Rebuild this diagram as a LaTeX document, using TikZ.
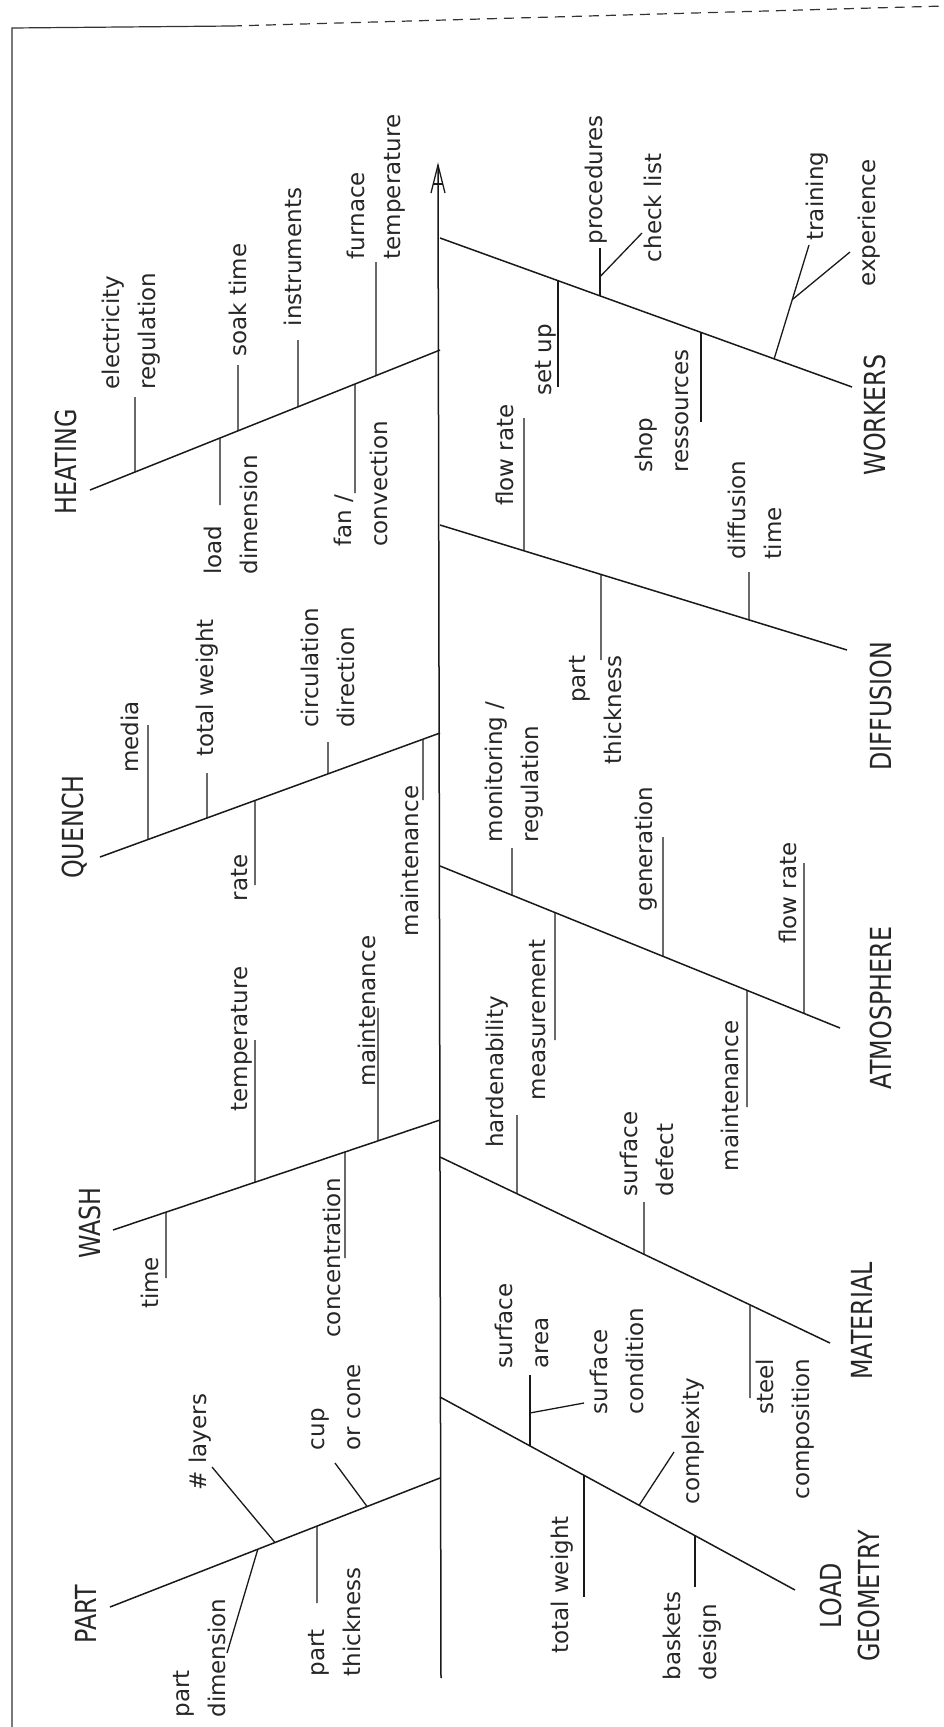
\documentclass[tikz,border=0pt]{standalone}
\usepackage{fontspec}
\setmainfont{DejaVu Sans}
\newfontfamily\catfam[FakeStretch=0.82]{DejaVu Sans}
\newcommand\labfont{\fontsize{23}{36}\selectfont}
\newcommand\catfnt{\catfam\fontsize{29}{38}\selectfont}
\usetikzlibrary{calc}
\tikzset{
  bone/.style={line width=1.5pt, black!90},
  sub/.style={line width=1.3pt, black!90},
  border/.style={line width=1.2pt, black!80},
  lab/.style={rotate=90, inner sep=0pt, font=\labfont, text=black!85},
  cat/.style={rotate=90, inner sep=0pt, font=\catfnt, text=black!85},
}
\newcommand\vt[5]{%
  \coordinate (#1) at (#4,#5);
  \coordinate (#1b) at (intersection cs: first line={(#2)--(#3)}, second line={(#4,0)--(#4,100)});
  \draw[sub] (#1) -- (#1b);}
\begin{document}
\begin{tikzpicture}[x=1pt,y=-1pt]
\useasboundingbox (0,0) rectangle (944,1727);
% border
\coordinate (bBL) at (12,1727);
\coordinate (bTL) at (12,28);
\coordinate (bTM) at (232,26);
\coordinate (bTR) at (944,6);
\draw[border] (bBL) -- (bTL) -- (bTM);
\draw[border, dash pattern=on 10pt off 7pt] (bTM) -- (bTR);
% spine and arrow
\coordinate (sB) at (441,1678);
\coordinate (sT) at (438,165);
\coordinate (arL) at (431,193);
\coordinate (arR) at (445,193);
\coordinate (arCL) at (433,184);
\coordinate (arCR) at (443,184);
\draw[bone] (sB) -- (sT);
\draw[sub] (arL) -- (sT) -- (arR);
\draw[sub] (arCL) -- (arCR);
% bones
\coordinate (hT) at (90,490);   \coordinate (hJ) at (440,350);
\coordinate (qT) at (100,857);  \coordinate (qJ) at (440,733);
\coordinate (wT) at (113,1230); \coordinate (wJ) at (440,1120);
\coordinate (pT) at (110,1607); \coordinate (pJ) at (440,1478);
\coordinate (kJ) at (440,238);  \coordinate (kT) at (852,387);
\coordinate (dJ) at (440,525);  \coordinate (dT) at (847,650);
\coordinate (atJ) at (440,866); \coordinate (atT) at (840,1028);
\coordinate (mJ) at (440,1157); \coordinate (mT) at (830,1343);
\coordinate (lJ) at (440,1397); \coordinate (lT) at (795,1590);
\foreach \a/\b in {hT/hJ,qT/qJ,wT/wJ,pT/pJ,kJ/kT,dJ/dT,atJ/atT,mJ/mT,lJ/lT}
  \draw[bone] (\a) -- (\b);

% HEATING
\node[cat] (Lheat) at (66,462) {HEATING};
\node[lab,align=left] (h1) at (131,331) {electricity\\regulation};
\node[lab] (h2) at (238,300) {soak time};
\node[lab] (h3) at (293,257) {instruments};
\node[lab,align=left] (h4) at (376,187) {furnace\\temperature};
\node[lab,align=left] (h5) at (231,515) {load\\dimension};
\node[lab,align=left] (h6) at (361,484) {fan /\\convection};
\vt{th1}{hT}{hJ}{135}{397}
\vt{th2}{hT}{hJ}{238}{365}
\vt{th3}{hT}{hJ}{298}{340}
\vt{th4}{hT}{hJ}{376}{262}
\vt{th5}{hT}{hJ}{220}{505}
\vt{th6}{hT}{hJ}{355}{493}

% QUENCH
\node[cat] (Lq) at (75,827) {QUENCH};
\node[lab] (q1) at (130,737) {media};
\node[lab] (q2) at (207,688) {total weight};
\node[lab,align=left] (q3) at (328,668) {circulation\\direction};
\node[lab] (q4) at (240,878) {rate};
\node[lab] (q5) at (410,861) {maintenance};
\vt{tq1}{qT}{qJ}{148}{725}
\vt{tq2}{qT}{qJ}{207}{773}
\vt{tq3}{qT}{qJ}{328}{742}
\vt{tq4}{qT}{qJ}{255}{885}
\vt{tq5}{qT}{qJ}{423}{800}

% WASH
\node[cat] (Lw) at (90,1223) {WASH};
\node[lab] (w1) at (150,1283) {time};
\node[lab] (w2) at (242,1039) {temperature};
\node[lab] (w3) at (367,1011) {maintenance};
\node[lab] (w4) at (332,1258) {concentration};
\vt{tw1}{wT}{wJ}{166}{1278}
\vt{tw2}{wT}{wJ}{255}{1040}
\vt{tw3}{wT}{wJ}{378}{1008}
\vt{tw4}{wT}{wJ}{345}{1258}

% PART
\node[cat] (Lp) at (86,1614) {PART};
\node[lab] (p1) at (200,1442) {\# layers};
\node[lab,align=left] (p2) at (200,1658) {part\\dimension};
\node[lab,align=left] (p3) at (335,1622) {part\\thickness};
\node[lab,align=left] (p4) at (336,1407) {cup\\or cone};
\coordinate (tp1) at (212,1467);
\coordinate (tp1b) at ($(pT)!0.5!(pJ)$);
\draw[sub] (tp1) -- (tp1b);
\coordinate (tp2) at (227,1653);
\coordinate (tp2b) at ($(pT)!0.448!(pJ)$);
\draw[sub] (tp2) -- (tp2b);
\vt{tp3}{pT}{pJ}{317}{1603}
\coordinate (tp4) at (335,1463);
\coordinate (tp4b) at ($(pT)!0.779!(pJ)$);
\draw[sub] (tp4) -- (tp4b);

% WORKERS
\node[cat] (Lk) at (875,415) {WORKERS};
\node[lab] (k1) at (596,180) {procedures};
\node[lab] (k2) at (653,208) {check list};
\node[lab] (k3) at (817,196) {training};
\node[lab] (k4) at (869,223) {experience};
\node[lab] (k5) at (546,360) {set up};
\node[lab,align=left] (k6) at (662,411) {shop\\ressources};
\vt{tk1}{kJ}{kT}{600}{248}
\coordinate (tk2) at (642,233);
\coordinate (tk2b) at ($(tk1)!0.6!(tk1b)$);
\draw[sub] (tk2) -- (tk2b);
\coordinate (tk3) at (809,245);
\coordinate (tk3b) at ($(kJ)!0.811!(kT)$);
\draw[sub] (tk3) -- (tk3b);
\coordinate (tk4) at (850,252);
\coordinate (tk4b) at ($(tk3b)!0.52!(tk3)$);
\draw[sub] (tk4) -- (tk4b);
\vt{tk5}{kJ}{kT}{558}{387}
\vt{tk6}{kJ}{kT}{701}{422}

% DIFFUSION
\node[cat] (Ld) at (881,706) {DIFFUSION};
\node[lab] (d1) at (505,455) {flow rate};
\node[lab,align=right] (d2) at (596,710) {part\\thickness};
\node[lab,align=left] (d3) at (755,510) {diffusion\\time};
\vt{td1}{dJ}{dT}{524}{418}
\vt{td2}{dJ}{dT}{601}{660}
\vt{td3}{dJ}{dT}{749}{572}

% ATMOSPHERE
\node[cat] (La) at (881,1008) {ATMOSPHERE};
\node[lab,align=left] (a1) at (514,772) {monitoring /\\regulation};
\node[lab] (a2) at (538,1020) {measurement};
\node[lab] (a3) at (646,849) {generation};
\node[lab] (a4) at (788,893) {flow rate};
\node[lab] (a5) at (730,1096) {maintenance};
\vt{ta1}{atJ}{atT}{512}{848}
\vt{ta2}{atJ}{atT}{555}{1040}
\vt{ta3}{atJ}{atT}{663}{837}
\vt{ta4}{atJ}{atT}{804}{863}
\vt{ta5}{atJ}{atT}{747}{1107}

% MATERIAL
\node[cat] (Lm) at (862,1321) {MATERIAL};
\node[lab] (m1) at (497,1072) {hardenability};
\node[lab,align=left] (m2) at (647,1154) {surface\\defect};
\node[lab,align=right] (m3) at (785,1429) {steel\\composition};
\vt{tm1}{mJ}{mT}{517}{1115}
\vt{tm2}{mJ}{mT}{644}{1202}
\vt{tm3}{mJ}{mT}{750}{1398}

% LOAD GEOMETRY
\node[cat,align=center] (Ll) at (850,1596) {LOAD\\GEOMETRY};
\node[lab,align=left] (l1) at (522,1326) {surface\\area};
\node[lab,align=left] (l2) at (617,1361) {surface\\condition};
\node[lab] (l3) at (562,1585) {total weight};
\node[lab] (l4) at (693,1441) {complexity};
\node[lab,align=left] (l5) at (692,1636) {baskets\\design};
\vt{tl1}{lJ}{lT}{530}{1375}
\coordinate (tl2) at (584,1403);
\coordinate (tl2b) at ($(tl1)!0.535!(tl1b)$);
\draw[sub] (tl2) -- (tl2b);
\vt{tl3}{lJ}{lT}{584}{1597}
\coordinate (tl4) at (674,1452);
\coordinate (tl4b) at ($(lJ)!0.561!(lT)$);
\draw[sub] (tl4) -- (tl4b);
\vt{tl5}{lJ}{lT}{695}{1587}
\end{tikzpicture}
\end{document}
